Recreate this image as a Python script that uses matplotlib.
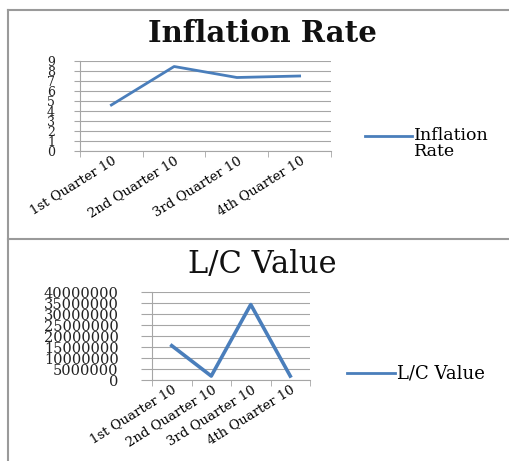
import matplotlib
matplotlib.use("Agg")
import matplotlib.pyplot as plt
from matplotlib.lines import Line2D

quarters = ["1st Quarter 10", "2nd Quarter 10", "3rd Quarter 10", "4th Quarter 10"]
inflation = [4.6, 8.45, 7.35, 7.5]
lc_value = [15600000, 1800000, 34300000, 1800000]

W, H = 509, 461
blue = "#4A7EBB"
grid = "#A6A6A6"
serif = ["DejaVu Serif"]

fig = plt.figure(figsize=(W / 100, H / 100), dpi=100)
fig.patch.set_facecolor("white")


def px_axes(left, top, right, bottom):
    return fig.add_axes([left / W, 1 - bottom / H, (right - left) / W, (bottom - top) / H])


def style(ax, ymax, step, fs_y, tick_len, pad):
    x = range(len(quarters))
    ax.set_xlim(-0.5, len(quarters) - 0.5)
    ax.set_ylim(0, ymax)
    ax.set_yticks(range(0, ymax + 1, step))
    ax.yaxis.set_major_formatter(matplotlib.ticker.FuncFormatter(lambda v, p: "%d" % v))
    ax.set_xticks(list(x))
    ax.set_xticklabels(quarters, rotation=32, ha="right", va="top",
                       rotation_mode="anchor", family=serif, fontsize=9.5)
    ax.set_xticks([i - 0.5 for i in range(len(quarters) + 1)], minor=True)
    ax.tick_params(axis="x", which="major", length=0, pad=2)
    ax.tick_params(axis="x", which="minor", length=4, color=grid)
    ax.tick_params(axis="y", length=tick_len, color=grid, pad=pad)
    for lab in ax.get_yticklabels():
        lab.set_family(serif)
        lab.set_fontsize(fs_y)
        lab.set_color("#222222")
    ax.grid(axis="y", color=grid, linewidth=0.8)
    ax.set_axisbelow(True)
    for s in ["top", "right"]:
        ax.spines[s].set_visible(False)
    for s in ["left", "bottom"]:
        ax.spines[s].set_color(grid)
        ax.spines[s].set_linewidth(0.8)


# top chart
ax1 = px_axes(80, 61, 331, 151)
ax1.plot(range(len(quarters)), inflation, color=blue, linewidth=2)
style(ax1, 9, 1, 9, 4, 14)
fig.text(262 / W, 1 - 34 / H, "Inflation Rate", ha="center", va="center",
         family=serif, fontsize=21, fontweight="bold", color="#111111")
fig.add_artist(Line2D([365 / W, 412 / W], [1 - 136 / H] * 2, color=blue, linewidth=2))
fig.text(414 / W, 1 - 136 / H, "Inflation", ha="left", va="center", family=serif, fontsize=12.5)
fig.text(414 / W, 1 - 151 / H, "Rate", ha="left", va="center", family=serif, fontsize=12.5)

# bottom chart
ax2 = px_axes(152, 292, 310, 380)
ax2.plot(range(len(lc_value)), lc_value, color=blue, linewidth=2.6)
style(ax2, 40000000, 5000000, 10.5, 8, 16)
fig.text(262 / W, 1 - 264 / H, "L/C Value", ha="center", va="center",
         family=serif, fontsize=22, color="#111111")
fig.add_artist(Line2D([347 / W, 395 / W], [1 - 373 / H] * 2, color=blue, linewidth=2))
fig.text(397 / W, 1 - 373 / H, "L/C Value", ha="left", va="center", family=serif, fontsize=13)

# panel frames
frame = "#9A9A9A"
fig.add_artist(Line2D([8 / W, 8 / W], [0, 1 - 10 / H], color=frame, linewidth=1.5))
fig.add_artist(Line2D([8 / W, 1], [1 - 10 / H] * 2, color=frame, linewidth=1.5))
fig.add_artist(Line2D([8 / W, 1], [1 - 239 / H] * 2, color=frame, linewidth=1.5))

fig.savefig("out.png", dpi=100)
